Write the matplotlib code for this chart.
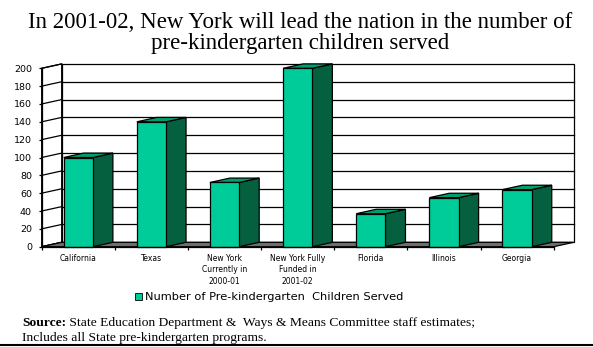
import numpy as np
import matplotlib
matplotlib.use("Agg")
import matplotlib.pyplot as plt
from matplotlib.patches import Polygon, Rectangle, Patch

# pre-k children served (thousands)
states = ["California", "Texas", "New York\nCurrently in\n2000-01",
          "New York Fully\nFunded in\n2001-02", "Florida", "Illinois", "Georgia"]
served = [100, 140, 72, 200, 37, 55, 64]
yticks = [0, 20, 40, 60, 80, 100, 120, 140, 160, 180, 200]

front = "#00CC99"
top = "#009E6E"
side = "#05603F"
floor_c = "#6E6E6E"

W, H = 593, 347
fig = plt.figure(figsize=(W / 100, H / 100), dpi=100)
ax = fig.add_axes([41.7 / W, (H - 246.7) / H, 512 / W, 178.4 / H])
n = len(states)
ymax = yticks[-1]
ax.set_xlim(0, n)
ax.set_ylim(0, ymax)

# depth of the 3d box in data units
dx = 20 / (512 / n)
dy = 4.4 / (178.4 / ymax)
lw = 0.9

# back wall + gridlines
ax.add_patch(Rectangle((dx, dy), n, ymax, fc="white", ec="black", lw=lw, clip_on=False, zorder=1))
for v in yticks[1:-1]:
    ax.plot([dx, n + dx], [v + dy, v + dy], color="black", lw=lw, clip_on=False, zorder=2)
# left wall
ax.add_patch(Polygon([(0, 0), (dx, dy), (dx, ymax + dy), (0, ymax)], closed=True,
                     fc="white", ec="black", lw=lw, clip_on=False, zorder=2))
for v in yticks:
    ax.plot([0, dx], [v, v + dy], color="black", lw=lw, clip_on=False, zorder=2)
# floor
ax.add_patch(Polygon([(0, 0), (n, 0), (n + dx, dy), (dx, dy)], closed=True,
                     fc=floor_c, ec="black", lw=lw, clip_on=False, zorder=3))

bw = 0.4
for i, v in enumerate(served):
    x0 = i + 0.5 - bw / 2
    x1 = x0 + bw
    z = 4 + i
    ax.add_patch(Polygon([(x1, 0), (x1 + dx, dy), (x1 + dx, v + dy), (x1, v)], closed=True,
                         fc=side, ec="black", lw=lw, clip_on=False, zorder=z))
    ax.add_patch(Polygon([(x0, v), (x1, v), (x1 + dx, v + dy), (x0 + dx, v + dy)], closed=True,
                         fc=top, ec="black", lw=lw, clip_on=False, zorder=z))
    ax.add_patch(Rectangle((x0, 0), bw, v, fc=front, ec="black", lw=lw, clip_on=False, zorder=z))

for s in ["top", "right"]:
    ax.spines[s].set_visible(False)
for s in ["left", "bottom"]:
    ax.spines[s].set_linewidth(lw)
    ax.spines[s].set_zorder(20)
ax.patch.set_visible(False)

ax.set_yticks(yticks)
ax.set_yticklabels([str(v) for v in yticks], fontsize=6.8, family="DejaVu Sans")
ax.tick_params(axis="y", length=2, width=lw, pad=5)
ax.set_xticks(np.arange(n + 1))
ax.set_xticklabels([])
ax.set_xticks(np.arange(n) + 0.5, minor=True)
ax.set_xticklabels(states, minor=True, fontsize=5.5, family="DejaVu Sans", linespacing=1.4)
ax.tick_params(axis="x", which="major", length=2.5, width=lw)
ax.tick_params(axis="x", which="minor", length=0, pad=5)

fig.text(300 / W, 1 - 33 / H,
         "In 2001-02, New York will lead the nation in the number of\npre-kindergarten children served",
         ha="center", va="center", fontsize=16.5, family="Liberation Serif", linespacing=1.0)

fig.legend(handles=[Patch(fc=front, ec="black", lw=0.6,
                          label="Number of Pre-kindergarten  Children Served")],
           loc="center", bbox_to_anchor=(269 / W, 1 - 297.5 / H), frameon=False,
           handlelength=0.6, handleheight=0.6, handletextpad=0.3,
           prop={"family": "DejaVu Sans", "size": 8.2})

# source note: bold lead-in followed by regular text
lead = fig.text(22 / W, 1 - 323 / H, "Source:", ha="left", va="center", fontsize=9.7,
                family="Liberation Serif", weight="bold")
ax.annotate(" State Education Department &  Ways & Means Committee staff estimates;",
            xy=(1, 0.5), xycoords=lead, ha="left", va="center", fontsize=9.7,
            family="Liberation Serif", annotation_clip=False)
fig.text(22 / W, 1 - 338 / H, "Includes all State pre-kindergarten programs.",
         ha="left", va="center", fontsize=9.7, family="Liberation Serif")

fig.add_artist(plt.Line2D([0, 1], [1 - 344.5 / H, 1 - 344.5 / H], color="black", lw=1.5))

fig.savefig("out.png", dpi=100)
